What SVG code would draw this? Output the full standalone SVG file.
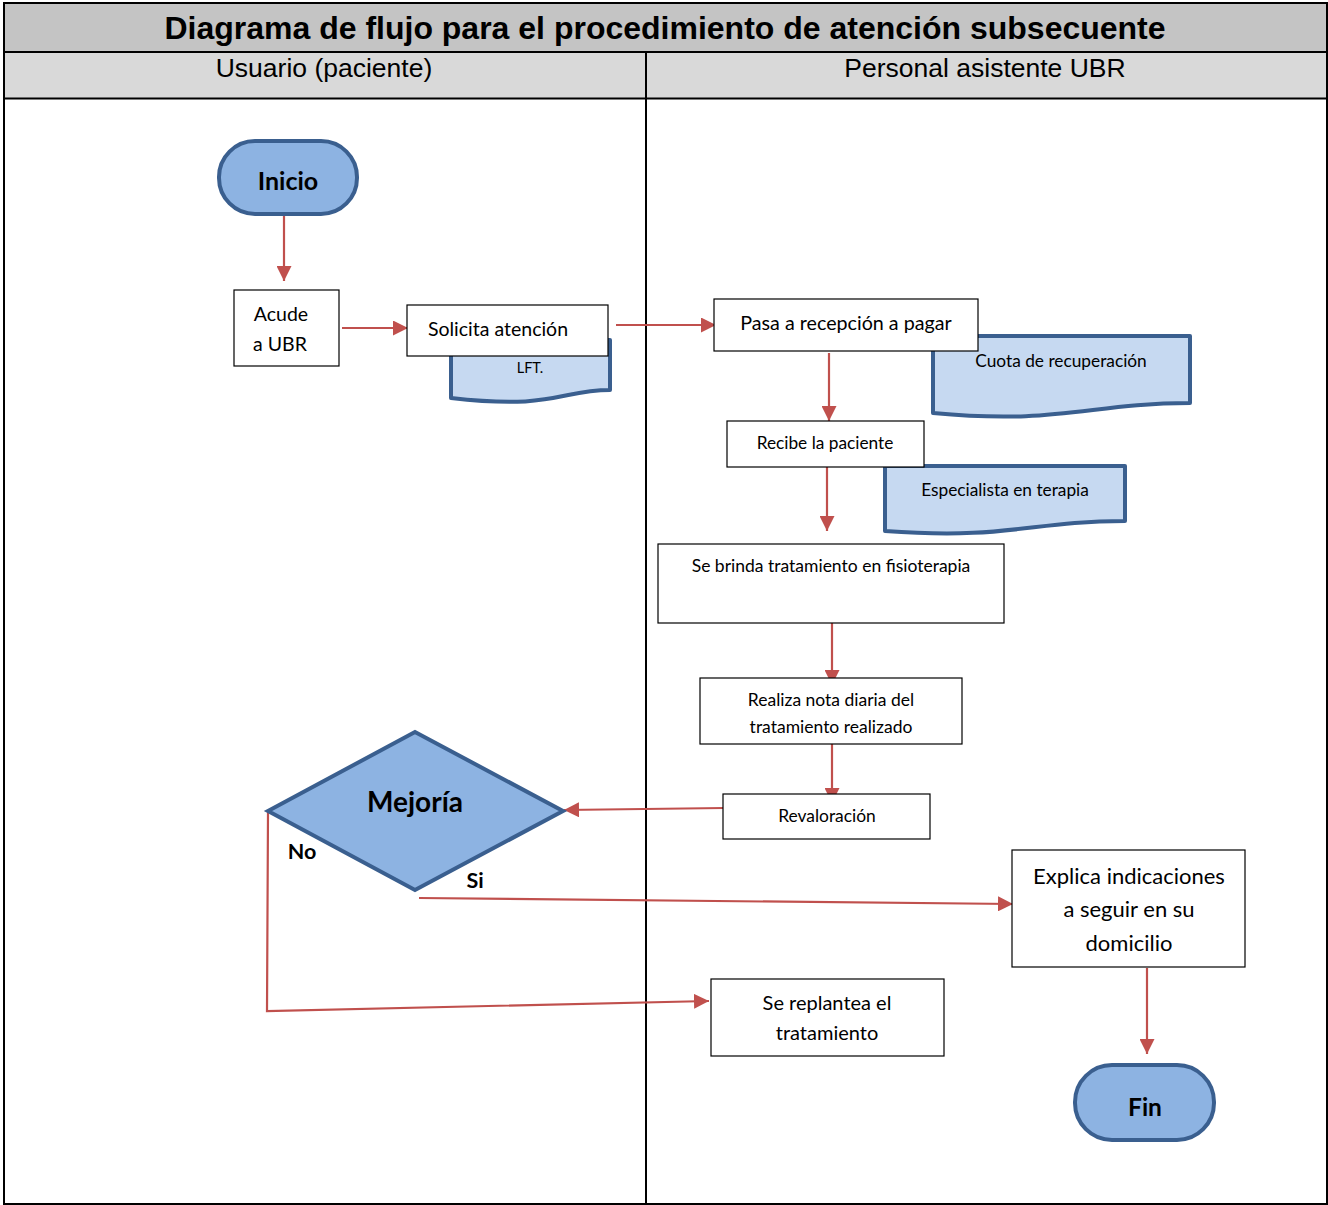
<svg xmlns="http://www.w3.org/2000/svg" width="1328" height="1205" viewBox="0 0 1328 1205">
<style>
.box{fill:#fff;stroke:#000;stroke-width:1.2}
.term{fill:#8db3e2;stroke:#3a5f8f;stroke-width:4}
.doc{fill:#c6d9f1;stroke:#3a5f8f;stroke-width:4;stroke-linejoin:round}
.t{font-family:Lato,"Open Sans","Liberation Sans",sans-serif;fill:#000;text-anchor:middle}
.b{font-weight:bold}
.hd{font-family:"Liberation Sans",Arial,sans-serif;text-anchor:middle;fill:#000}
.c{fill:none;stroke:#c0504d;stroke-width:2.2}
</style>
<defs>
<marker id="a" viewBox="0 0 15 15" refX="15" refY="7.5" markerWidth="15" markerHeight="15" markerUnits="userSpaceOnUse" orient="auto">
<path d="M0,0 L15,7.5 L0,15 Z" fill="#c0504d"/>
</marker>
</defs>
<g id="frame">
<rect x="4" y="3" width="1323" height="49" fill="#c4c4c4"/>
<rect x="4" y="52" width="1323" height="46" fill="#d9d9d9"/>
<rect x="4" y="3" width="1323" height="1201" fill="none" stroke="#000" stroke-width="2"/>
<line x1="4" y1="52" x2="1327" y2="52" stroke="#000" stroke-width="2"/>
<line x1="4" y1="98.5" x2="1327" y2="98.5" stroke="#000" stroke-width="2"/>
<line x1="646" y1="52" x2="646" y2="1204" stroke="#000" stroke-width="2"/>
<text class="hd b" x="665" y="39" font-size="32" font-weight="bold">Diagrama de flujo para el procedimiento de atención subsecuente</text>
<text class="hd" x="324" y="77" font-size="26.5">Usuario (paciente)</text>
<text class="hd" x="985" y="77" font-size="26.5">Personal asistente UBR</text>
</g>
<g id="connectors">
<line class="c" x1="284" y1="215" x2="284" y2="281" marker-end="url(#a)"/>
<line class="c" x1="342" y1="328" x2="408" y2="328" marker-end="url(#a)"/>
<line class="c" x1="616" y1="325" x2="716" y2="325" marker-end="url(#a)"/>
<line class="c" x1="829" y1="353" x2="829" y2="421" marker-end="url(#a)"/>
<line class="c" x1="827" y1="465" x2="827" y2="531" marker-end="url(#a)"/>
<line class="c" x1="832" y1="618" x2="832" y2="685" marker-end="url(#a)"/>
<line class="c" x1="832" y1="737" x2="832" y2="803" marker-end="url(#a)"/>
<line class="c" x1="724" y1="808" x2="564" y2="810" marker-end="url(#a)"/>
<line class="c" x1="419" y1="898" x2="1013" y2="904" marker-end="url(#a)"/>
<polyline class="c" points="268,812 267,1011 709,1001" marker-end="url(#a)"/>
<line class="c" x1="1147" y1="968" x2="1147" y2="1054" marker-end="url(#a)"/>
</g>
<g id="inicio">
<rect class="term" x="219" y="141" width="138" height="73" rx="36" ry="36"/>
<text class="t b" x="288" y="190" font-size="25">Inicio</text>
</g>
<g id="acude">
<rect class="box" x="234" y="290" width="105" height="76"/>
<text class="t" x="281" y="321" font-size="19.5">Acude</text>
<text class="t" x="280" y="351" font-size="19.5">a UBR</text>
</g>
<g id="lft">
<path class="doc" d="M451,340 H610 V390 C560,390 555,410 451,398 Z"/>
<text class="t" x="530" y="373" font-size="14.5">LFT.</text>
</g>
<g id="solicita">
<rect class="box" x="407" y="305" width="201" height="51"/>
<text class="t" x="498" y="336" font-size="19.5">Solicita atención</text>
</g>
<g id="cuota">
<path class="doc" d="M933,336 H1190 V403 C1090,403 1060,425 933,413 Z"/>
<text class="t" x="1061" y="367" font-size="17.3">Cuota de recuperación</text>
</g>
<g id="pasa">
<rect class="box" x="714" y="299" width="264" height="52"/>
<text class="t" x="846" y="330" font-size="19.7">Pasa a recepción a pagar</text>
</g>
<g id="especialista">
<path class="doc" d="M885,466 H1125 V521 C1030,521 1010,540 885,531 Z"/>
<text class="t" x="1005" y="496" font-size="17.3">Especialista en terapia</text>
</g>
<g id="recibe">
<rect class="box" x="727" y="421" width="197" height="46"/>
<text class="t" x="825" y="449" font-size="17.3">Recibe la paciente</text>
</g>
<g id="brinda">
<rect class="box" x="658" y="544" width="346" height="79"/>
<text class="t" x="831" y="572" font-size="17.5">Se brinda tratamiento en fisioterapia</text>
</g>
<g id="nota">
<rect class="box" x="700" y="678" width="262" height="66"/>
<text class="t" x="831" y="706" font-size="17.5">Realiza nota diaria del</text>
<text class="t" x="831" y="733" font-size="17.5">tratamiento realizado</text>
</g>
<g id="revaloracion">
<rect class="box" x="723" y="794" width="207" height="45"/>
<text class="t" x="827" y="822" font-size="17.4">Revaloración</text>
</g>
<g id="mejoria">
<polygon points="268,811 415,732 563,811 415,890" fill="#8db3e2" stroke="#3a5f8f" stroke-width="4" stroke-linejoin="miter"/>
<text class="t b" x="415" y="812" font-size="28">Mejoría</text>
<text class="t b" x="302" y="859" font-size="21.5">No</text>
<text class="t b" x="475" y="888" font-size="21.5">Si</text>
</g>
<g id="explica">
<rect class="box" x="1012" y="850" width="233" height="117"/>
<text class="t" x="1129" y="884" font-size="22">Explica indicaciones</text>
<text class="t" x="1129" y="917" font-size="22">a seguir en su</text>
<text class="t" x="1129" y="951" font-size="22">domicilio</text>
</g>
<g id="replantea">
<rect class="box" x="711" y="979" width="233" height="77"/>
<text class="t" x="827" y="1010" font-size="20">Se replantea el</text>
<text class="t" x="827" y="1040" font-size="20">tratamiento</text>
</g>
<g id="fin">
<rect class="term" x="1075" y="1065" width="139" height="75" rx="37" ry="37"/>
<text class="t b" x="1145" y="1116" font-size="24.5">Fin</text>
</g>
</svg>
